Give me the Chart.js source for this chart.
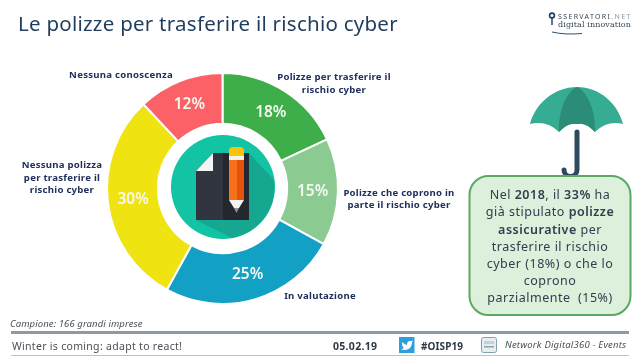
<!DOCTYPE html>
<html lang="it">
<head>
<meta charset="utf-8">
<title>Le polizze per trasferire il rischio cyber</title>
<script src="https://cdn.jsdelivr.net/npm/chart.js@4"></script>
<style>
  html, body { margin: 0; padding: 0; background: #fff; }
  #stage { position: relative; width: 640px; height: 360px; overflow: hidden; font-family: "Noto Sans", sans-serif; }
  #stage canvas, #stage svg { position: absolute; left: 0; top: 0; }
  .t { position: absolute; white-space: nowrap; line-height: 1; }
  .c { transform: translate(-50%, -50%); }
  .l { transform: translateY(-50%); }
  #title { left: 18px; top: 23px; font-size: 20.5px; color: #1f3d5c; letter-spacing: .25px; }
  .cat { font-size: 9.6px; font-weight: 700; color: #20305c; letter-spacing: .25px; }
  .box { font-size: 12.5px; color: #2d4050; letter-spacing: .5px; }
  .box b { font-weight: 600; }
  .foot { font-size: 10.5px; color: #4a5058; letter-spacing: .3px; }
  .it { font-style: italic; }
</style>
</head>
<body>
<div id="stage">
  <canvas id="myChart" width="640" height="360"></canvas>
  <svg width="640" height="360" viewBox="0 0 640 360">
    <!-- centre icon -->
    <circle cx="223" cy="187" r="52" fill="#12c4a3"/>
    <path d="M249 153 L274 180 A52 52 0 0 1 232 238 L196 220 Z" fill="#15a78f"/>
    <path d="M213 153 H223 V220 H196 V171 Z" fill="#30353f"/>
    <path d="M213 153 V171 H196 Z" fill="#f2f5f4"/>
    <rect x="223" y="153" width="26" height="67" fill="#24272d"/>
    <path d="M229 151 A4 4 0 0 1 233 147 H240 A4 4 0 0 1 244 151 V156 H229 Z" fill="#f8c20f"/>
    <rect x="229" y="156" width="15" height="4" fill="#f4f1e6"/>
    <rect x="229" y="160" width="8" height="40" fill="#f7701a"/>
    <rect x="237" y="160" width="7" height="40" fill="#e5520c"/>
    <path d="M229 200 H244 L239 208 H234 Z" fill="#f4f4f2"/>
    <path d="M234 208 H239 L236.5 213 Z" fill="#8f959b"/>
    <!-- umbrella -->
    <path d="M577 132 V170 A6.5 6.5 0 0 1 564 170" fill="none" stroke="#2f4a5c" stroke-width="5" stroke-linecap="round"/>
    <path d="M577 87 C600 87 618 104 623 124 Q607 120 595 132 Q586 122 577 124 Q568 122 559 132 Q547 120 530 124 C535 104 554 87 577 87 Z" fill="#36ad92"/>
    <path d="M577 87 C566 92 558 112 559 132 Q568 122 577 124 Q586 122 595 132 C596 112 588 92 577 87 Z" fill="#2b8d78"/>
    <!-- note box -->
    <rect x="469.5" y="176" width="161" height="139" rx="19" fill="#dcf0dc" stroke="#5ba863" stroke-width="2"/>
    <!-- footer rules -->
    <rect x="11" y="331" width="618" height="3" fill="#8d9aa3"/>
    <rect x="11" y="355" width="618" height="1" fill="#bcc3c8"/>
    <!-- twitter icon -->
    <rect x="399" y="337" width="15.5" height="16" fill="#2d9fdc"/>
    <path d="M402 342 Q405 345 407 345 Q407 341 410 341 L412 341 L413 340 L412 342.5 Q412 349 405 350 Q402 350 401 349 Q403 349 404 348 Q402 347 402 342 Z" fill="#fff"/>
    <!-- network icon -->
    <rect x="481.5" y="337.5" width="15" height="15" rx="2" fill="#e6eef1" stroke="#7fa0b2"/>
    <rect x="484" y="341" width="10" height="3" fill="#c3d2da"/>
    <rect x="484" y="346" width="10" height="1.5" fill="#8aa4b2"/>
    <!-- logo marks -->
    <circle cx="552" cy="15.5" r="2.4" fill="none" stroke="#1f3d5c" stroke-width="1.6"/>
    <rect x="551.3" y="18" width="1.4" height="7" fill="#1f3d5c"/>
    <path d="M552 32 Q565 35 582 33.5" fill="none" stroke="#2f4f6a" stroke-width="1"/>
  </svg>

  <div id="title" class="t l">Le polizze per trasferire il rischio cyber</div>

  <div class="t l" style="left:558px;top:15.5px;font-size:7px;letter-spacing:1.35px;color:#33475a">SSERVATORI<span style="color:#8a97a2">.NET</span></div>
  <div class="t l" style="left:558px;top:25px;font-size:8px;font-family:'DejaVu Serif',serif;letter-spacing:.1px;color:#33475a">digital innovation</div>

  <div class="t c cat" style="left:121px;top:74.5px">Nessuna conoscenza</div>
  <div class="t c cat" style="left:62px;top:165px">Nessuna polizza</div>
  <div class="t c cat" style="left:62px;top:177.5px">per trasferire il</div>
  <div class="t c cat" style="left:62px;top:190px">rischio cyber</div>
  <div class="t c cat" style="left:334px;top:77px">Polizze per trasferire il</div>
  <div class="t c cat" style="left:334px;top:90px">rischio cyber</div>
  <div class="t c cat" style="left:399px;top:192.5px">Polizze che coprono in</div>
  <div class="t c cat" style="left:399px;top:205px">parte il rischio cyber</div>
  <div class="t c cat" style="left:320px;top:296px">In valutazione</div>

  <div class="t c box" style="left:550px;top:195px">Nel <b>2018</b>, il <b>33%</b> ha</div>
  <div class="t c box" style="left:550px;top:212px">già stipulato <b>polizze</b></div>
  <div class="t c box" style="left:550px;top:229.5px"><b>assicurative</b> per</div>
  <div class="t c box" style="left:550px;top:247px">trasferire il rischio</div>
  <div class="t c box" style="left:550px;top:264px">cyber (18%) o che lo</div>
  <div class="t c box" style="left:550px;top:281px">coprono</div>
  <div class="t c box" style="left:550px;top:298px">parzialmente&nbsp; (15%)</div>

  <div class="t l foot it" style="left:10px;top:323.5px;font-size:9.5px;letter-spacing:.1px">Campione: 166 grandi imprese</div>
  <div class="t l foot" style="left:12px;top:345.5px">Winter is coming: adapt to react!</div>
  <div class="t l foot" style="left:333px;top:346px;font-weight:700;color:#2e3a46">05.02.19</div>
  <div class="t l foot" style="left:421px;top:346px;font-weight:700;font-size:10px;letter-spacing:.1px;color:#2e3a46">#OISP19</div>
  <div class="t l foot it" style="left:505px;top:345px;font-size:9.5px;letter-spacing:.2px">Network Digital360 - Events</div>
</div>

<script>
const categories = ['Polizze per trasferire il rischio cyber', 'Polizze che coprono in parte il rischio cyber', 'In valutazione', 'Nessuna polizza per trasferire il rischio cyber', 'Nessuna conoscenza'];
const shares = [18, 15, 25, 30, 12];
const sliceColors = ['#3dae49', '#8bcb92', '#12a0c4', '#f0e312', '#fb6167'];

// prints the percentages on the slices
const sliceLabels = {
  id: 'sliceLabels',
  afterDatasetsDraw(chart) {
    const ctx = chart.ctx;
    ctx.save();
    ctx.font = '600 15.5px "Noto Sans"';
    ctx.fillStyle = '#f6f9f0';
    ctx.textAlign = 'center';
    ctx.textBaseline = 'middle';
    chart.getDatasetMeta(0).data.forEach(function (arc, i) {
      const pos = arc.tooltipPosition();
      ctx.fillText(`${shares[i]}%`, pos.x, pos.y);
    });
    ctx.restore();
  }
};

new Chart(document.getElementById('myChart'), {
  type: 'doughnut',
  data: {
    labels: categories,
    datasets: [{
      data: shares,
      backgroundColor: sliceColors,
      borderColor: '#ffffff',
      borderWidth: 2
    }]
  },
  options: {
    responsive: false,
    animation: false,
    cutout: '56%',
    layout: { padding: { left: 106, right: 301, top: 72, bottom: 55 } },
    plugins: { legend: { display: false }, tooltip: { enabled: false } }
  },
  plugins: [sliceLabels]
});
</script>
</body>
</html>
